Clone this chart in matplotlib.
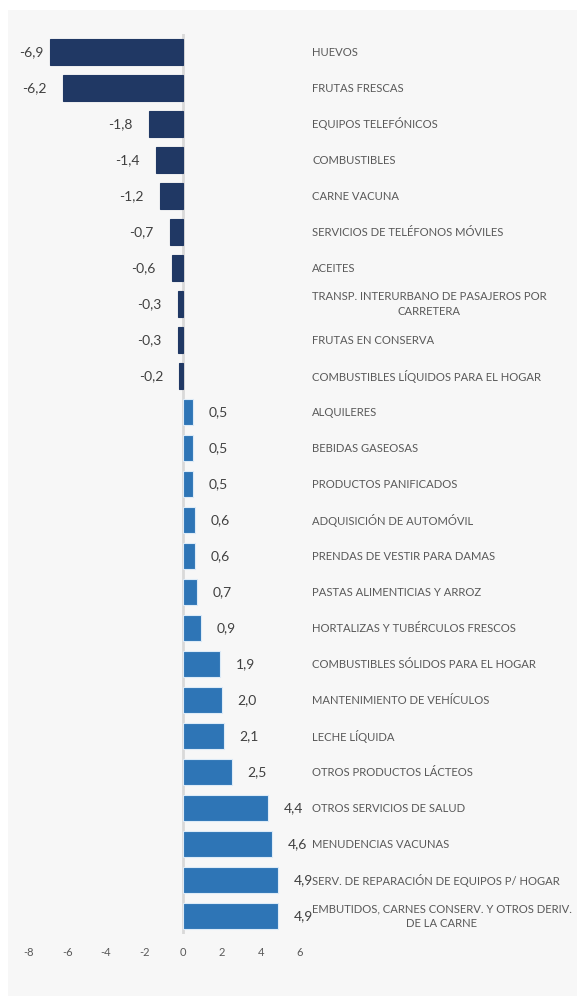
import matplotlib.pyplot as plt
from matplotlib.patches import Rectangle

categorias = [
    "HUEVOS",
    "FRUTAS FRESCAS",
    "EQUIPOS TELEFÓNICOS",
    "COMBUSTIBLES",
    "CARNE VACUNA",
    "SERVICIOS DE TELÉFONOS MÓVILES",
    "ACEITES",
    "TRANSP. INTERURBANO DE PASAJEROS POR\nCARRETERA",
    "FRUTAS EN CONSERVA",
    "COMBUSTIBLES LÍQUIDOS PARA EL HOGAR",
    "ALQUILERES",
    "BEBIDAS GASEOSAS",
    "PRODUCTOS PANIFICADOS",
    "ADQUISICIÓN DE AUTOMÓVIL",
    "PRENDAS DE VESTIR PARA DAMAS",
    "PASTAS ALIMENTICIAS Y ARROZ",
    "HORTALIZAS Y TUBÉRCULOS FRESCOS",
    "COMBUSTIBLES SÓLIDOS PARA EL HOGAR",
    "MANTENIMIENTO DE VEHÍCULOS",
    "LECHE LÍQUIDA",
    "OTROS PRODUCTOS LÁCTEOS",
    "OTROS SERVICIOS DE SALUD",
    "MENUDENCIAS VACUNAS",
    "SERV. DE REPARACIÓN DE EQUIPOS P/ HOGAR",
    "EMBUTIDOS, CARNES CONSERV. Y OTROS DERIV.\nDE LA CARNE",
]
valores = [-6.9, -6.2, -1.8, -1.4, -1.2, -0.7, -0.6, -0.3, -0.3, -0.2,
           0.5, 0.5, 0.5, 0.6, 0.6, 0.7, 0.9, 1.9, 2.0, 2.1, 2.5, 4.4, 4.6, 4.9, 4.9]
xticks = [-8, -6, -4, -2, 0, 2, 4, 6]

plt.rcParams['font.family'] = ['Lato', 'DejaVu Sans']

fig = plt.figure(figsize=(5.77, 9.96), dpi=100)
fig.patch.set_facecolor('white')
# fondo gris del area del grafico
fondo = Rectangle((8 / 577, -0.02), 1, 1.02 - 10 / 996, transform=fig.transFigure,
                  facecolor='#F7F7F7', edgecolor='none', zorder=-10)
fig.patches.append(fondo)

ax = fig.add_axes([28.7 / 577, 1 - 934 / 996, 270.6 / 577, 900 / 996])
ax.set_facecolor('none')

pos = list(range(len(categorias)))
colores = ['#203864' if v < 0 else '#2E75B6' for v in valores]
bordes = ['#203864' if v < 0 else '#DDEBF7' for v in valores]
ax.barh(pos, valores, height=0.72, color=colores, edgecolor=bordes, linewidth=0.8, zorder=3)
ax.axvline(0, color='#D9D9D9', lw=2, zorder=2)

ax.set_xlim(-8, 6)
ax.set_ylim(len(categorias) - 0.5, -0.5)
ax.set_xticks(xticks)
ax.set_xticklabels([str(t) for t in xticks])
ax.set_yticks([])
ax.tick_params(axis='x', length=0, pad=9, labelsize=8, labelcolor='#595959')
for s in ax.spines.values():
    s.set_visible(False)

for i, (v, c) in enumerate(zip(valores, categorias)):
    txt = f"{v:.1f}".replace('.', ',')
    if v < 0:
        ax.text(max(v - 0.85, -7.25), i, txt, ha='right', va='center', fontsize=10, color='#404040')
    else:
        ax.text(v + 0.8, i, txt, ha='left', va='center', fontsize=10, color='#404040')
    ax.text(6.66, i, c, ha='left', va='center', multialignment='center',
            fontsize=8.1, color='#595959', clip_on=False, linespacing=1.35)

fig.savefig('out.png', dpi=100)
